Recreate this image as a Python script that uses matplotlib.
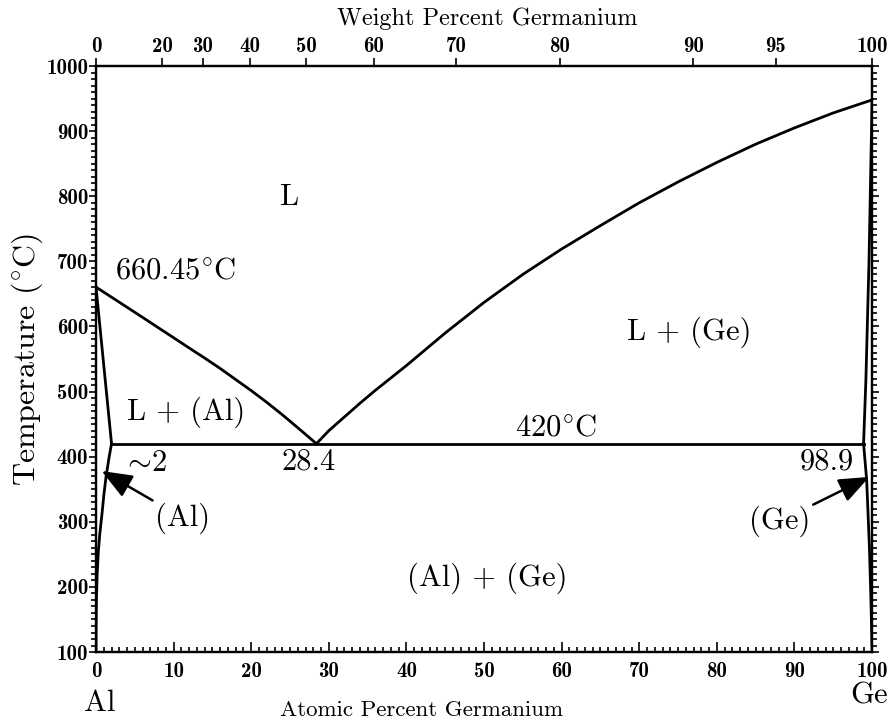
import numpy as np
import matplotlib.pyplot as plt
from matplotlib.ticker import MultipleLocator

plt.rcParams['mathtext.fontset'] = 'cm'
plt.rcParams['axes.unicode_minus'] = False

# Al-Ge phase boundaries (atomic % Ge, temperature in C)
liq_al_x = [0, 2, 4, 6, 8, 10, 12, 14, 16, 18, 20, 22, 24, 26, 28.4]
liq_al_t = [660.45, 645, 629.5, 614, 598.3, 582.7, 567, 551.5, 535.5, 518.5, 501.5, 483.5,
            464.5, 444.5, 420]

liq_ge_x = [28.4, 30, 32, 34, 36, 38, 40, 45, 50, 55, 60, 65, 70, 75, 80, 85, 90, 95, 100]
liq_ge_t = [420, 440, 461, 482, 502, 521, 540, 590, 637, 680, 719, 755, 790, 822, 852,
            880, 905, 928, 948]

sol_al_x = [0, 2.0]
sol_al_t = [660.45, 420]

solv_al_x = [2.0, 1.7, 1.3, 1.0, 0.75, 0.5, 0.3, 0.15, 0.05, 0.01, 0]
solv_al_t = [420, 400, 370, 340, 310, 283, 255, 220, 180, 140, 100]

sol_ge_x = [98.9, 99.2, 99.6, 100]
sol_ge_t = [420, 518, 700, 948]

solv_ge_x = [98.9, 99.3, 99.65, 99.85, 100]
solv_ge_t = [420, 364, 262, 180, 100]

eut_x = [2.0, 98.9]
eut_t = [420, 420]

# weight percent labels for the top axis
wt_ticks = [0, 20, 30, 40, 50, 60, 70, 80, 90, 95, 100]
M_AL, M_GE = 26.98, 72.63


def wt_to_at(w):
    w = np.asarray(w, dtype=float)
    a = w / M_GE
    b = (100 - w) / M_AL
    return 100 * a / (a + b)


fig = plt.figure(figsize=(8.89, 7.24), dpi=100)
ax = fig.add_axes([0.108, 0.0994, 0.873, 0.8094])

lw = 2.0
for xs, ts in [(liq_al_x, liq_al_t), (liq_ge_x, liq_ge_t), (sol_al_x, sol_al_t),
               (solv_al_x, solv_al_t), (sol_ge_x, sol_ge_t), (solv_ge_x, solv_ge_t),
               (eut_x, eut_t)]:
    ax.plot(xs, ts, color='black', lw=lw, solid_joinstyle='round')

ax.set_xlim(0, 100)
ax.set_ylim(100, 1000)
for s in ax.spines.values():
    s.set_linewidth(1.6)

tick_font = {'family': 'cmb10', 'size': 15}
ax.xaxis.set_major_locator(MultipleLocator(10))
ax.xaxis.set_minor_locator(MultipleLocator(1))
ax.yaxis.set_major_locator(MultipleLocator(100))
ax.yaxis.set_minor_locator(MultipleLocator(10))
ax.tick_params(axis='x', which='both', direction='in', top=True, bottom=True, width=1.2)
ax.tick_params(axis='x', which='major', length=7, pad=7)
ax.tick_params(axis='x', which='minor', length=3.5)
ax.tick_params(axis='y', which='both', direction='out', left=True, right=True, width=1.2)
ax.tick_params(axis='y', which='major', length=5, pad=0.5)
ax.tick_params(axis='y', which='minor', length=3.5)
for lab in ax.get_xticklabels() + ax.get_yticklabels():
    lab.set_fontfamily('cmb10')
    lab.set_fontsize(15)

# top axis in weight percent
ax2 = ax.twiny()
ax2.set_xlim(0, 100)
ax2.set_xticks(wt_to_at(wt_ticks))
ax2.set_xticklabels([str(w) for w in wt_ticks], fontdict=tick_font)
ax2.tick_params(axis='x', direction='out', length=6, width=1.2, pad=1)
ax2.xaxis.set_minor_locator(plt.NullLocator())
for s in ax2.spines.values():
    s.set_linewidth(1.6)

txt_font = {'family': 'cmr10', 'size': 22}

ax.text(0.419, -0.099, 'Atomic Percent Germanium', transform=ax.transAxes,
        ha='center', va='center', family='cmr10', fontsize=16.5)
ax.text(0.504, 1.08, 'Weight Percent Germanium', transform=ax.transAxes,
        ha='center', va='center', family='cmr10', fontsize=17.5)
ax.text(-0.089, 0.5, r'Temperature ($\mathrm{^{\circ}C}$)', transform=ax.transAxes,
        ha='center', va='center', rotation=90, family='cmr10', fontsize=23)
ax.text(0.005, -0.087, 'Al', transform=ax.transAxes, ha='center', va='center', fontdict=txt_font)
ax.text(0.996, -0.075, 'Ge', transform=ax.transAxes, ha='center', va='center', fontdict=txt_font)

ax.text(25.0, 799, 'L', ha='center', va='center', fontdict=txt_font)
ax.text(2.4, 687, r'$\mathrm{660.45^{\circ}C}$', ha='left', va='center', fontsize=22)
ax.text(76.5, 591, 'L + (Ge)', ha='center', va='center', fontdict=txt_font)
ax.text(11.6, 469, 'L + (Al)', ha='center', va='center', fontdict=txt_font)
ax.text(59.3, 446, r'$\mathrm{420^{\circ}C}$', ha='center', va='center', fontsize=22)
ax.text(3.3, 391, r'$\sim\!\mathrm{2}$', ha='left', va='center', fontsize=22)
ax.text(27.4, 392, '28.4', ha='center', va='center', fontdict=txt_font)
ax.text(94.2, 392, '98.9', ha='center', va='center', fontdict=txt_font)
ax.text(50.4, 214, '(Al) + (Ge)', ha='center', va='center', fontdict=txt_font)

arrow = dict(arrowstyle='-|>,head_length=0.85,head_width=0.34', color='black', lw=1.8,
             shrinkA=0, shrinkB=0)
ax.annotate('(Al)', xy=(0.73, 378), xytext=(11.2, 306), ha='center', va='center',
            fontsize=22, family='cmr10', arrowprops=arrow)
ax.annotate('(Ge)', xy=(99.65, 369), xytext=(88.1, 301), ha='center', va='center',
            fontsize=22, family='cmr10', arrowprops=arrow)

fig.savefig('out.png', dpi=100)
